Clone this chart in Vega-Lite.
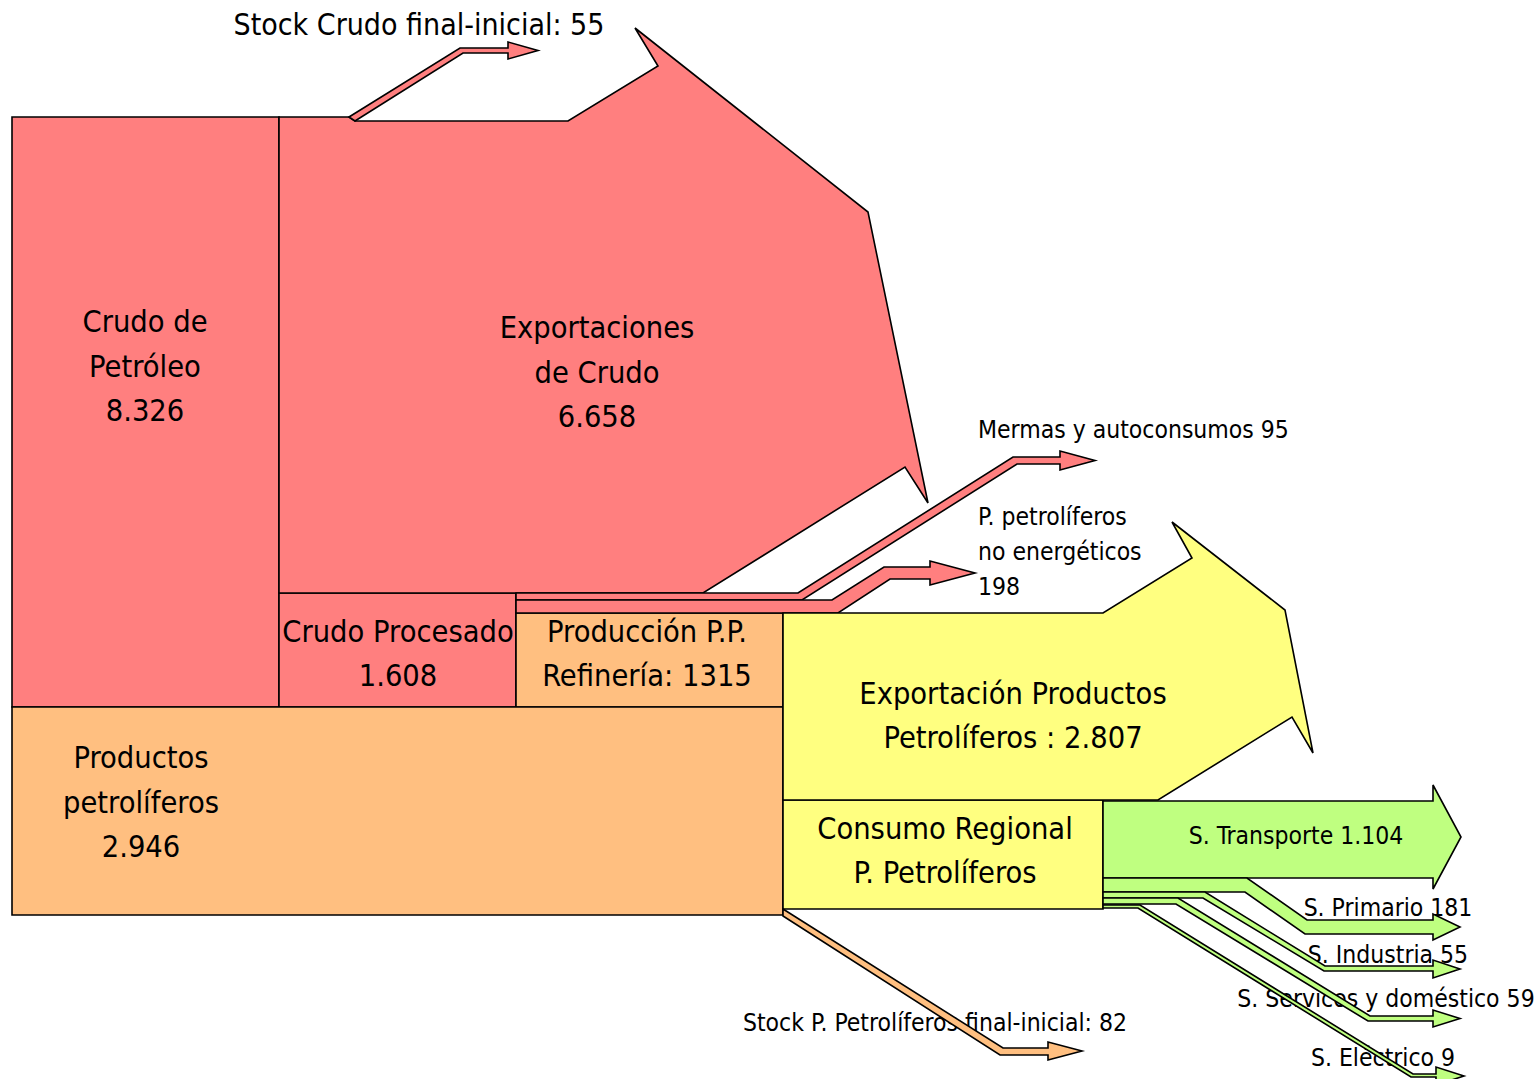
{
  "$schema": "https://vega.github.io/schema/vega-lite/v6.json",
  "width": 1538,
  "height": 1079,
  "autosize": {"type": "none"},
  "padding": 0,
  "background": "white",
  "config": {"view": {"stroke": null}},
  "datasets": {
    "boxes": [
      {"name": "Crudo de Petróleo", "group": "crudo", "x0": 12, "x1": 279, "y0": 117, "y1": 707},
      {"name": "Crudo Procesado", "group": "crudo", "x0": 279, "x1": 516, "y0": 593, "y1": 707},
      {"name": "Producción P.P.", "group": "productos", "x0": 516, "x1": 783, "y0": 613, "y1": 707},
      {"name": "Productos petrolíferos", "group": "productos", "x0": 12, "x1": 783, "y0": 707, "y1": 915},
      {"name": "Consumo Regional", "group": "regional", "x0": 783, "x1": 1103, "y0": 800, "y1": 909}
    ],
    "flows": [
      {"s": "exp_crudo", "group": "crudo", "i": 0, "x": 279, "y": 117},
      {"s": "exp_crudo", "group": "crudo", "i": 1, "x": 349, "y": 117},
      {"s": "exp_crudo", "group": "crudo", "i": 2, "x": 355, "y": 121},
      {"s": "exp_crudo", "group": "crudo", "i": 3, "x": 568, "y": 121},
      {"s": "exp_crudo", "group": "crudo", "i": 4, "x": 658, "y": 66},
      {"s": "exp_crudo", "group": "crudo", "i": 5, "x": 635, "y": 28},
      {"s": "exp_crudo", "group": "crudo", "i": 6, "x": 868, "y": 212},
      {"s": "exp_crudo", "group": "crudo", "i": 7, "x": 928, "y": 503},
      {"s": "exp_crudo", "group": "crudo", "i": 8, "x": 905, "y": 467},
      {"s": "exp_crudo", "group": "crudo", "i": 9, "x": 703, "y": 593},
      {"s": "exp_crudo", "group": "crudo", "i": 10, "x": 279, "y": 593},

      {"s": "stock_crudo", "group": "crudo", "i": 0, "x": 349, "y": 117},
      {"s": "stock_crudo", "group": "crudo", "i": 1, "x": 460, "y": 48},
      {"s": "stock_crudo", "group": "crudo", "i": 2, "x": 508, "y": 48},
      {"s": "stock_crudo", "group": "crudo", "i": 3, "x": 508, "y": 42},
      {"s": "stock_crudo", "group": "crudo", "i": 4, "x": 538, "y": 50.5},
      {"s": "stock_crudo", "group": "crudo", "i": 5, "x": 508, "y": 59},
      {"s": "stock_crudo", "group": "crudo", "i": 6, "x": 508, "y": 53},
      {"s": "stock_crudo", "group": "crudo", "i": 7, "x": 463, "y": 53},
      {"s": "stock_crudo", "group": "crudo", "i": 8, "x": 355, "y": 121},

      {"s": "mermas", "group": "crudo", "i": 0, "x": 516, "y": 593},
      {"s": "mermas", "group": "crudo", "i": 1, "x": 798, "y": 593},
      {"s": "mermas", "group": "crudo", "i": 2, "x": 1013, "y": 457},
      {"s": "mermas", "group": "crudo", "i": 3, "x": 1060, "y": 457},
      {"s": "mermas", "group": "crudo", "i": 4, "x": 1060, "y": 451},
      {"s": "mermas", "group": "crudo", "i": 5, "x": 1095, "y": 460.5},
      {"s": "mermas", "group": "crudo", "i": 6, "x": 1060, "y": 470},
      {"s": "mermas", "group": "crudo", "i": 7, "x": 1060, "y": 464},
      {"s": "mermas", "group": "crudo", "i": 8, "x": 1017, "y": 464},
      {"s": "mermas", "group": "crudo", "i": 9, "x": 802, "y": 600},
      {"s": "mermas", "group": "crudo", "i": 10, "x": 516, "y": 600},

      {"s": "no_energ", "group": "crudo", "i": 0, "x": 516, "y": 600},
      {"s": "no_energ", "group": "crudo", "i": 1, "x": 832, "y": 600},
      {"s": "no_energ", "group": "crudo", "i": 2, "x": 884, "y": 567},
      {"s": "no_energ", "group": "crudo", "i": 3, "x": 930, "y": 567},
      {"s": "no_energ", "group": "crudo", "i": 4, "x": 930, "y": 561},
      {"s": "no_energ", "group": "crudo", "i": 5, "x": 975, "y": 573},
      {"s": "no_energ", "group": "crudo", "i": 6, "x": 930, "y": 585},
      {"s": "no_energ", "group": "crudo", "i": 7, "x": 930, "y": 579},
      {"s": "no_energ", "group": "crudo", "i": 8, "x": 890, "y": 579},
      {"s": "no_energ", "group": "crudo", "i": 9, "x": 838, "y": 613},
      {"s": "no_energ", "group": "crudo", "i": 10, "x": 516, "y": 613},

      {"s": "exp_prod", "group": "regional", "i": 0, "x": 783, "y": 613},
      {"s": "exp_prod", "group": "regional", "i": 1, "x": 1103, "y": 613},
      {"s": "exp_prod", "group": "regional", "i": 2, "x": 1192, "y": 558},
      {"s": "exp_prod", "group": "regional", "i": 3, "x": 1172, "y": 522},
      {"s": "exp_prod", "group": "regional", "i": 4, "x": 1285, "y": 610},
      {"s": "exp_prod", "group": "regional", "i": 5, "x": 1313, "y": 753},
      {"s": "exp_prod", "group": "regional", "i": 6, "x": 1292, "y": 717},
      {"s": "exp_prod", "group": "regional", "i": 7, "x": 1158, "y": 800},
      {"s": "exp_prod", "group": "regional", "i": 8, "x": 783, "y": 800},

      {"s": "stock_pp", "group": "productos", "i": 0, "x": 783, "y": 909},
      {"s": "stock_pp", "group": "productos", "i": 1, "x": 1003, "y": 1048},
      {"s": "stock_pp", "group": "productos", "i": 2, "x": 1048, "y": 1048},
      {"s": "stock_pp", "group": "productos", "i": 3, "x": 1048, "y": 1042},
      {"s": "stock_pp", "group": "productos", "i": 4, "x": 1082, "y": 1051},
      {"s": "stock_pp", "group": "productos", "i": 5, "x": 1048, "y": 1060},
      {"s": "stock_pp", "group": "productos", "i": 6, "x": 1048, "y": 1055},
      {"s": "stock_pp", "group": "productos", "i": 7, "x": 1000, "y": 1055},
      {"s": "stock_pp", "group": "productos", "i": 8, "x": 783, "y": 916},

      {"s": "transporte", "group": "sector", "i": 0, "x": 1103, "y": 801},
      {"s": "transporte", "group": "sector", "i": 1, "x": 1433, "y": 801},
      {"s": "transporte", "group": "sector", "i": 2, "x": 1433, "y": 785},
      {"s": "transporte", "group": "sector", "i": 3, "x": 1461, "y": 837},
      {"s": "transporte", "group": "sector", "i": 4, "x": 1433, "y": 889},
      {"s": "transporte", "group": "sector", "i": 5, "x": 1433, "y": 878},
      {"s": "transporte", "group": "sector", "i": 6, "x": 1103, "y": 878},

      {"s": "primario", "group": "sector", "i": 0, "x": 1103, "y": 878},
      {"s": "primario", "group": "sector", "i": 1, "x": 1247, "y": 878},
      {"s": "primario", "group": "sector", "i": 2, "x": 1307, "y": 920},
      {"s": "primario", "group": "sector", "i": 3, "x": 1433, "y": 920},
      {"s": "primario", "group": "sector", "i": 4, "x": 1433, "y": 914},
      {"s": "primario", "group": "sector", "i": 5, "x": 1460, "y": 927},
      {"s": "primario", "group": "sector", "i": 6, "x": 1433, "y": 940},
      {"s": "primario", "group": "sector", "i": 7, "x": 1433, "y": 934},
      {"s": "primario", "group": "sector", "i": 8, "x": 1305, "y": 934},
      {"s": "primario", "group": "sector", "i": 9, "x": 1245, "y": 892},
      {"s": "primario", "group": "sector", "i": 10, "x": 1103, "y": 892},

      {"s": "industria", "group": "sector", "i": 0, "x": 1103, "y": 892},
      {"s": "industria", "group": "sector", "i": 1, "x": 1205, "y": 892},
      {"s": "industria", "group": "sector", "i": 2, "x": 1325, "y": 966},
      {"s": "industria", "group": "sector", "i": 3, "x": 1433, "y": 966},
      {"s": "industria", "group": "sector", "i": 4, "x": 1433, "y": 960},
      {"s": "industria", "group": "sector", "i": 5, "x": 1460, "y": 969},
      {"s": "industria", "group": "sector", "i": 6, "x": 1433, "y": 978},
      {"s": "industria", "group": "sector", "i": 7, "x": 1433, "y": 971},
      {"s": "industria", "group": "sector", "i": 8, "x": 1324, "y": 971},
      {"s": "industria", "group": "sector", "i": 9, "x": 1203, "y": 898},
      {"s": "industria", "group": "sector", "i": 10, "x": 1103, "y": 898},

      {"s": "servicios", "group": "sector", "i": 0, "x": 1103, "y": 898},
      {"s": "servicios", "group": "sector", "i": 1, "x": 1178, "y": 898},
      {"s": "servicios", "group": "sector", "i": 2, "x": 1370, "y": 1016},
      {"s": "servicios", "group": "sector", "i": 3, "x": 1433, "y": 1016},
      {"s": "servicios", "group": "sector", "i": 4, "x": 1433, "y": 1010},
      {"s": "servicios", "group": "sector", "i": 5, "x": 1460, "y": 1018.5},
      {"s": "servicios", "group": "sector", "i": 6, "x": 1433, "y": 1027},
      {"s": "servicios", "group": "sector", "i": 7, "x": 1433, "y": 1021},
      {"s": "servicios", "group": "sector", "i": 8, "x": 1368, "y": 1021},
      {"s": "servicios", "group": "sector", "i": 9, "x": 1176, "y": 904},
      {"s": "servicios", "group": "sector", "i": 10, "x": 1103, "y": 904},

      {"s": "electrico", "group": "sector", "i": 0, "x": 1103, "y": 905},
      {"s": "electrico", "group": "sector", "i": 1, "x": 1140, "y": 905},
      {"s": "electrico", "group": "sector", "i": 2, "x": 1413, "y": 1074},
      {"s": "electrico", "group": "sector", "i": 3, "x": 1436, "y": 1074},
      {"s": "electrico", "group": "sector", "i": 4, "x": 1436, "y": 1067},
      {"s": "electrico", "group": "sector", "i": 5, "x": 1464, "y": 1076},
      {"s": "electrico", "group": "sector", "i": 6, "x": 1436, "y": 1085},
      {"s": "electrico", "group": "sector", "i": 7, "x": 1436, "y": 1077},
      {"s": "electrico", "group": "sector", "i": 8, "x": 1411, "y": 1077},
      {"s": "electrico", "group": "sector", "i": 9, "x": 1138, "y": 908},
      {"s": "electrico", "group": "sector", "i": 10, "x": 1103, "y": 908}
    ],
    "outerBig": [
      {"label": "Stock Crudo final-inicial: 55", "x": 419, "y": 26}
    ],
    "outerCenter": [
      {"label": "S. Primario 181", "x": 1388, "y": 909},
      {"label": "S. Industria 55", "x": 1388, "y": 956},
      {"label": "S. Servicos y doméstico 59", "x": 1386, "y": 1000},
      {"label": "S. Eléctrico 9", "x": 1383, "y": 1059},
      {"label": "Stock P. Petrolíferos final-inicial: 82", "x": 935, "y": 1024}
    ],
    "outerLeft": [
      {"label": "Mermas y autoconsumos 95", "x": 978, "y": 431},
      {"label": "P. petrolíferos", "x": 978, "y": 518},
      {"label": "no energéticos", "x": 978, "y": 553},
      {"label": "198", "x": 978, "y": 588}
    ],
    "inner": [
      {"label": "Crudo de", "x": 145, "y": 323},
      {"label": "Petróleo", "x": 145, "y": 368},
      {"label": "8.326", "x": 145, "y": 412},
      {"label": "Exportaciones", "x": 597, "y": 329},
      {"label": "de Crudo", "x": 597, "y": 374},
      {"label": "6.658", "x": 597, "y": 418},
      {"label": "Crudo Procesado", "x": 398, "y": 633},
      {"label": "1.608", "x": 398, "y": 677},
      {"label": "Producción P.P.", "x": 647, "y": 633},
      {"label": "Refinería: 1315", "x": 647, "y": 677},
      {"label": "Exportación Productos", "x": 1013, "y": 695},
      {"label": "Petrolíferos : 2.807", "x": 1013, "y": 739},
      {"label": "Productos", "x": 141, "y": 759},
      {"label": "petrolíferos", "x": 141, "y": 804},
      {"label": "2.946", "x": 141, "y": 848},
      {"label": "Consumo Regional", "x": 945, "y": 830},
      {"label": "P. Petrolíferos", "x": 945, "y": 874}
    ],
    "innerSmall": [
      {"label": "S. Transporte 1.104", "x": 1296, "y": 837}
    ]
  },
  "layer": [
    {
      "data": {"name": "outerBig"},
      "mark": {"type": "text", "font": "DejaVu Sans Condensed, sans-serif", "fontSize": 30, "align": "center", "baseline": "middle", "color": "black"},
      "encoding": {
        "x": {"field": "x", "type": "quantitative", "scale": {"domain": [0, 1538], "nice": false, "zero": false}, "axis": null},
        "y": {"field": "y", "type": "quantitative", "scale": {"domain": [0, 1079], "nice": false, "zero": false, "reverse": true}, "axis": null},
        "text": {"field": "label"}
      }
    },
    {
      "data": {"name": "outerCenter"},
      "mark": {"type": "text", "font": "DejaVu Sans Condensed, sans-serif", "fontSize": 24.5, "align": "center", "baseline": "middle", "color": "black"},
      "encoding": {
        "x": {"field": "x", "type": "quantitative", "scale": {"domain": [0, 1538], "nice": false, "zero": false}, "axis": null},
        "y": {"field": "y", "type": "quantitative", "scale": {"domain": [0, 1079], "nice": false, "zero": false, "reverse": true}, "axis": null},
        "text": {"field": "label"}
      }
    },
    {
      "data": {"name": "outerLeft"},
      "mark": {"type": "text", "font": "DejaVu Sans Condensed, sans-serif", "fontSize": 24.5, "align": "left", "baseline": "middle", "color": "black"},
      "encoding": {
        "x": {"field": "x", "type": "quantitative", "scale": {"domain": [0, 1538], "nice": false, "zero": false}, "axis": null},
        "y": {"field": "y", "type": "quantitative", "scale": {"domain": [0, 1079], "nice": false, "zero": false, "reverse": true}, "axis": null},
        "text": {"field": "label"}
      }
    },
    {
      "data": {"name": "boxes"},
      "mark": {"type": "rect", "stroke": "black", "strokeWidth": 1.6},
      "encoding": {
        "x": {"field": "x0", "type": "quantitative", "scale": {"domain": [0, 1538], "nice": false, "zero": false}, "axis": null},
        "x2": {"field": "x1"},
        "y": {"field": "y0", "type": "quantitative", "scale": {"domain": [0, 1079], "nice": false, "zero": false, "reverse": true}, "axis": null},
        "y2": {"field": "y1"},
        "fill": {"field": "group", "type": "nominal", "scale": {"domain": ["crudo", "productos", "regional", "sector"], "range": ["#FF7F7F", "#FFBF80", "#FFFF80", "#BFFF80"]}, "legend": null}
      }
    },
    {
      "data": {"name": "flows"},
      "mark": {"type": "line", "interpolate": "linear-closed", "stroke": "black", "strokeWidth": 1.6, "strokeJoin": "miter"},
      "encoding": {
        "x": {"field": "x", "type": "quantitative", "scale": {"domain": [0, 1538], "nice": false, "zero": false}, "axis": null},
        "y": {"field": "y", "type": "quantitative", "scale": {"domain": [0, 1079], "nice": false, "zero": false, "reverse": true}, "axis": null},
        "detail": {"field": "s"},
        "order": {"field": "i", "type": "quantitative"},
        "fill": {"field": "group", "type": "nominal", "scale": {"domain": ["crudo", "productos", "regional", "sector"], "range": ["#FF7F7F", "#FFBF80", "#FFFF80", "#BFFF80"]}, "legend": null}
      }
    },
    {
      "data": {"name": "inner"},
      "mark": {"type": "text", "font": "DejaVu Sans Condensed, sans-serif", "fontSize": 30.5, "align": "center", "baseline": "middle", "color": "black"},
      "encoding": {
        "x": {"field": "x", "type": "quantitative", "scale": {"domain": [0, 1538], "nice": false, "zero": false}, "axis": null},
        "y": {"field": "y", "type": "quantitative", "scale": {"domain": [0, 1079], "nice": false, "zero": false, "reverse": true}, "axis": null},
        "text": {"field": "label"}
      }
    },
    {
      "data": {"name": "innerSmall"},
      "mark": {"type": "text", "font": "DejaVu Sans Condensed, sans-serif", "fontSize": 24.5, "align": "center", "baseline": "middle", "color": "black"},
      "encoding": {
        "x": {"field": "x", "type": "quantitative", "scale": {"domain": [0, 1538], "nice": false, "zero": false}, "axis": null},
        "y": {"field": "y", "type": "quantitative", "scale": {"domain": [0, 1079], "nice": false, "zero": false, "reverse": true}, "axis": null},
        "text": {"field": "label"}
      }
    }
  ]
}
